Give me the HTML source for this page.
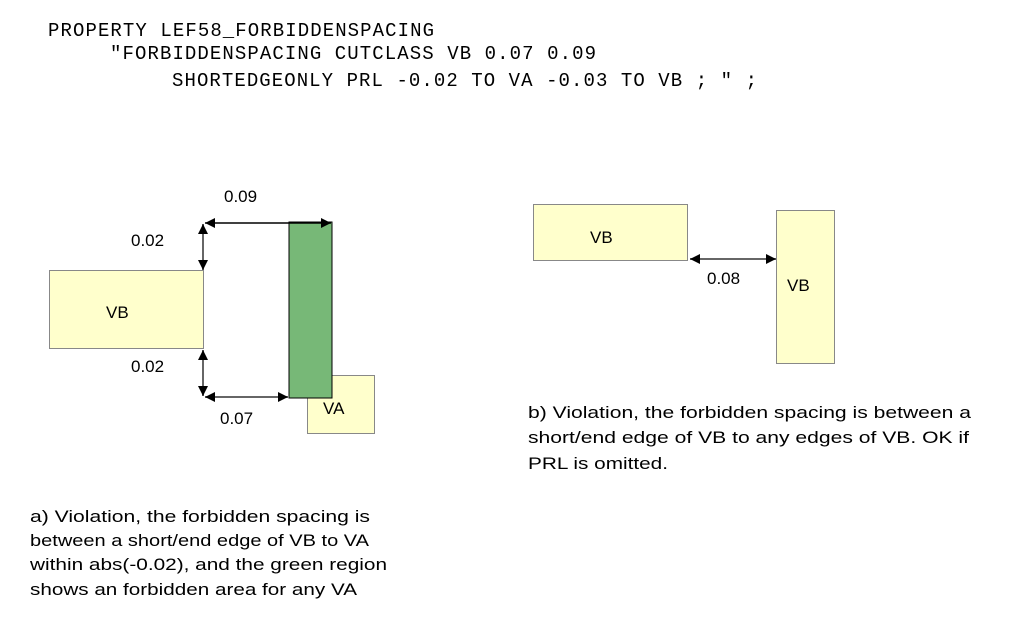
<!DOCTYPE html>
<html><head><meta charset="utf-8"><style>
html,body{margin:0;padding:0;background:#fff;}
svg{display:block;}
.m{font-family:"Liberation Mono",monospace;font-size:19px;fill:#000;}
.s{font-family:"Liberation Sans",sans-serif;font-size:17px;fill:#000;}
</style></head><body>
<svg width="1013" height="631" viewBox="0 0 1013 631" xmlns="http://www.w3.org/2000/svg" xml:space="preserve">
<defs>
<marker id="a" viewBox="0 0 10 10" refX="10" refY="5" markerWidth="10" markerHeight="10" markerUnits="userSpaceOnUse" orient="auto-start-reverse"><path d="M0,0L10,5L0,10z" fill="#000"/></marker>
</defs>
<text class="m" x="48" y="36" textLength="386" lengthAdjust="spacing">PROPERTY LEF58_FORBIDDENSPACING</text>
<text class="m" x="110" y="59" textLength="486" lengthAdjust="spacing">"FORBIDDENSPACING CUTCLASS VB 0.07 0.09</text>
<text class="m" x="172" y="86" textLength="585" lengthAdjust="spacing">SHORTEDGEONLY PRL -0.02 TO VA -0.03 TO VB ; " ;</text>

<rect x="49.5" y="270.5" width="154" height="78" fill="#ffffcc" stroke="#888"/>
<text class="s" x="106" y="318">VB</text>
<rect x="307.5" y="375.5" width="67" height="58" fill="#ffffcc" stroke="#888"/>
<text class="s" x="323" y="414">VA</text>
<rect x="289" y="222" width="43" height="176" fill="#77b877" stroke="#000" stroke-width="1"/>
<line x1="205" y1="223" x2="331" y2="223" stroke="#000" stroke-width="1.5" marker-start="url(#a)" marker-end="url(#a)"/>
<line x1="203" y1="224" x2="203" y2="270" stroke="#666" stroke-width="2" marker-start="url(#a)" marker-end="url(#a)"/>
<line x1="203" y1="350" x2="203" y2="396" stroke="#666" stroke-width="2" marker-start="url(#a)" marker-end="url(#a)"/>
<line x1="205" y1="397" x2="288" y2="397" stroke="#666" stroke-width="2" marker-start="url(#a)" marker-end="url(#a)"/>
<text class="s" x="224" y="202">0.09</text>
<text class="s" x="131" y="246">0.02</text>
<text class="s" x="131" y="372">0.02</text>
<text class="s" x="220" y="424">0.07</text>

<rect x="533.5" y="204.5" width="154" height="56" fill="#ffffcc" stroke="#888"/>
<text class="s" x="590" y="243">VB</text>
<rect x="776.5" y="210.5" width="58" height="153" fill="#ffffcc" stroke="#888"/>
<text class="s" x="787" y="291">VB</text>
<line x1="690" y1="259" x2="776" y2="259" stroke="#666" stroke-width="2" marker-start="url(#a)" marker-end="url(#a)"/>
<text class="s" x="707" y="284">0.08</text>

<text class="s" x="528" y="418" textLength="443" lengthAdjust="spacingAndGlyphs">b)  Violation, the forbidden spacing is between a</text>
<text class="s" x="528" y="443" textLength="441" lengthAdjust="spacingAndGlyphs">short/end edge of VB to any edges of VB.  OK if</text>
<text class="s" x="528" y="469" textLength="140" lengthAdjust="spacingAndGlyphs">PRL is omitted.</text>

<text class="s" x="30" y="522" textLength="340" lengthAdjust="spacingAndGlyphs">a)  Violation, the forbidden spacing is</text>
<text class="s" x="30" y="546" textLength="339" lengthAdjust="spacingAndGlyphs">between a short/end edge of VB to VA</text>
<text class="s" x="30" y="570" textLength="357" lengthAdjust="spacingAndGlyphs">within abs(-0.02), and the green region</text>
<text class="s" x="30" y="595" textLength="327" lengthAdjust="spacingAndGlyphs">shows an forbidden area for any VA</text>
</svg>
</body></html>
